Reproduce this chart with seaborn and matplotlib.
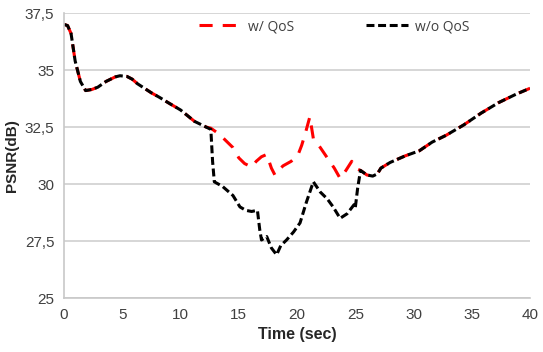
import matplotlib
matplotlib.use("Agg")
import matplotlib.pyplot as plt
import numpy as np
import pandas as pd
import seaborn as sns
from matplotlib.lines import Line2D
from matplotlib.ticker import FuncFormatter

# shared part before the two curves split
t_start = [0, 0.3, 0.6, 0.95, 1.4, 1.85, 2.4, 2.9, 3.6, 4.4, 4.8, 5.4, 5.85, 6.3,
           6.75, 7.5, 8.2, 9.0, 10.0, 10.6, 11.2, 11.8, 12.2]
v_start = [37.0, 36.95, 36.6, 35.4, 34.5, 34.1, 34.15, 34.25, 34.5, 34.7, 34.75, 34.72,
           34.6, 34.4, 34.25, 34.0, 33.8, 33.55, 33.25, 33.0, 32.75, 32.6, 32.5]

# w/ QoS middle part
t_qos = [12.6, 13.3, 13.9, 14.5, 15.0, 15.5, 16.1, 16.5, 16.95, 17.4, 17.8, 18.1, 18.5,
         18.8, 19.5, 20.1, 20.4, 20.7, 21.1, 21.4, 22.0, 22.6, 23.2, 23.7, 24.2, 24.7,
         25.0, 25.45]
v_qos = [32.45, 32.2, 31.9, 31.6, 31.15, 30.9, 30.75, 31.0, 31.2, 31.3, 30.7, 30.4, 30.65,
         30.8, 31.0, 31.3, 31.7, 32.2, 32.95, 32.0, 31.6, 31.15, 30.7, 30.25, 30.6, 31.0,
         30.7, 30.6]

# w/o QoS middle part
t_noqos = [12.6, 12.75, 12.9, 13.6, 14.5, 15.1, 15.6, 16.1, 16.6, 16.8, 16.95, 17.4, 17.8,
           18.25, 18.6, 19.1, 19.7, 20.26, 20.8, 21.4, 22.0, 22.6, 23.1, 23.7, 24.3, 24.9,
           25.0, 25.2, 25.45]
v_noqos = [32.4, 31.0, 30.1, 29.9, 29.5, 29.0, 28.85, 28.8, 28.85, 28.0, 27.55, 27.7, 27.2,
           26.9, 27.3, 27.55, 27.9, 28.3, 29.2, 30.1, 29.65, 29.35, 29.0, 28.5, 28.7, 29.1,
           28.95, 29.8, 30.6]

# shared part after the curves join again
t_end = [26.0, 26.5, 26.9, 27.2, 28.0, 29.3, 30.5, 31.6, 32.8, 34.3, 35.8, 37.3, 38.8, 40.0]
v_end = [30.4, 30.35, 30.45, 30.7, 30.95, 31.24, 31.46, 31.84, 32.14, 32.59, 33.11, 33.57,
         33.94, 34.2]

labels = ["w/ QoS", "w/o QoS"]
colors = ["#ff0000", "#000000"]

df_qos = pd.DataFrame({"t": t_start + t_qos + t_end, "v": v_start + v_qos + v_end})
df_noqos = pd.DataFrame({"t": t_start + t_noqos + t_end, "v": v_start + v_noqos + v_end})

sns.set_style("white")
plt.rcParams["font.family"] = ["Liberation Sans", "DejaVu Sans"]

fig = plt.figure(figsize=(5.43, 3.52), dpi=100)
ax = fig.add_axes([0.118, 0.153, 0.858, 0.81])

red_ls = (0, (4.3, 3.3))
black_ls = (0, (2.6, 1.2))
sns.lineplot(data=df_qos, x="t", y="v", ax=ax, color=colors[0], lw=2.2,
             linestyle=red_ls, estimator=None, sort=False)
sns.lineplot(data=df_noqos, x="t", y="v", ax=ax, color=colors[1], lw=2.2,
             linestyle=black_ls, estimator=None, sort=False)

ax.set_xlim(0, 40)
ax.set_ylim(25, 37.5)
ax.set_xticks(np.arange(0, 41, 5))
ax.set_yticks([25, 27.5, 30, 32.5, 35, 37.5])
ax.yaxis.set_major_formatter(FuncFormatter(lambda y, p: f"{y:g}".replace(".", ",")))
ax.grid(axis="y", color="#d0d0d0", lw=1.2)
ax.set_axisbelow(True)
for s in ["top", "right"]:
    ax.spines[s].set_visible(False)
for s in ["left", "bottom"]:
    ax.spines[s].set_color("#c8c8c8")
    ax.spines[s].set_linewidth(1.2)
ax.tick_params(axis="both", labelsize=11, colors="#404040", length=4, width=1,
               direction="out", pad=3)
ax.tick_params(axis="both", color="#c8c8c8")

ax.set_xlabel("Time (sec)", fontsize=11.5, fontweight="bold", color="#262626", labelpad=4)
ax.set_ylabel("PSNR(dB)", fontsize=11, fontweight="bold", color="#262626", labelpad=4)

handles = [Line2D([], [], color=colors[0], lw=2.2, linestyle=red_ls),
           Line2D([], [], color=colors[1], lw=2.2, linestyle=black_ls)]
leg = ax.legend(handles, labels, loc="center", bbox_to_anchor=(0.58, 0.952), ncol=2,
                frameon=False, handlelength=3.0, handletextpad=0.5, columnspacing=5.2,
                prop={"family": "Open Sans", "size": 10})
for txt in leg.get_texts():
    txt.set_color("#404040")

fig.savefig("out.png", dpi=100)
